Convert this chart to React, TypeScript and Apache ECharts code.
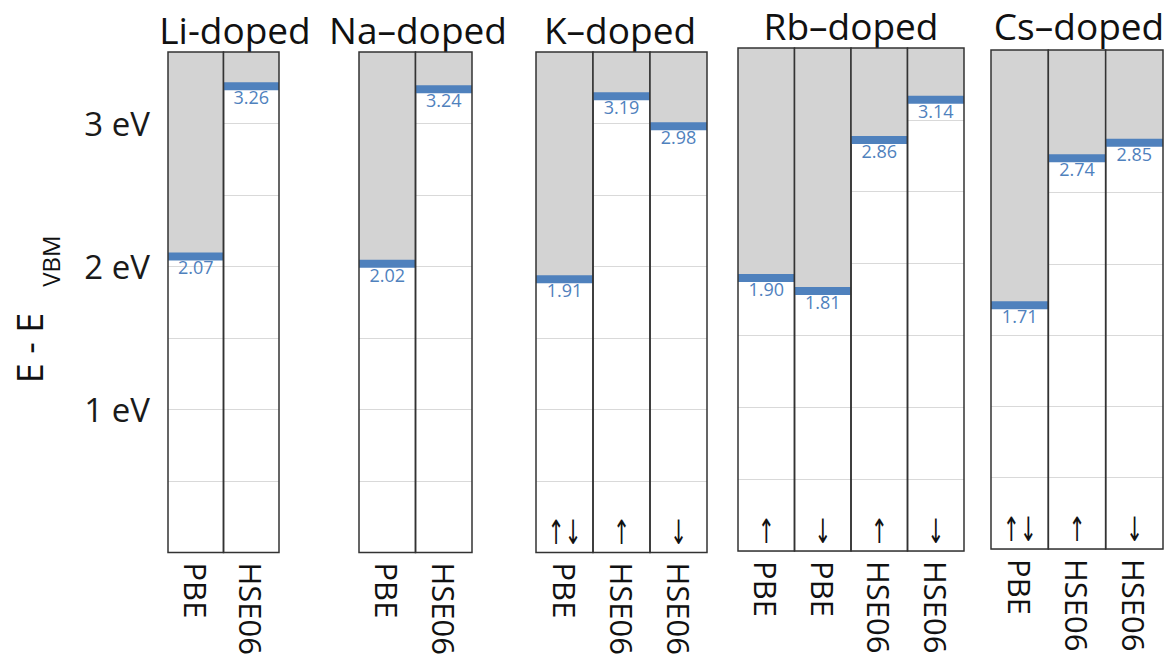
import React, { useEffect, useRef } from "react";
import * as echarts from "echarts";

// ---- data ----
const panelTitles = ["Li-doped", "Na–doped", "K–doped", "Rb–doped", "Cs–doped"];
const liMethods = ["PBE", "HSE06"];
const naMethods = ["PBE", "HSE06"];
const kMethods = ["PBE", "HSE06", "HSE06"];
const rbMethods = ["PBE", "PBE", "HSE06", "HSE06"];
const csMethods = ["PBE", "HSE06", "HSE06"];
const liValues = [2.07, 3.26];
const naValues = [2.02, 3.24];
const kValues = [1.91, 3.19, 2.98];
const rbValues = [1.9, 1.81, 2.86, 3.14];
const csValues = [1.71, 2.74, 2.85];
const liSpins = ["", ""];
const naSpins = ["", ""];
const kSpins = ["↑↓", "↑", "↓"];
const rbSpins = ["↑", "↓", "↑", "↓"];
const csSpins = ["↑↓", "↑", "↓"];
const yMin = 0;
const yMax = 3.5;
const yStep = 0.5;
const yLabelValues = [1, 2, 3];
const yUnit = "eV";

const methods = [liMethods, naMethods, kMethods, rbMethods, csMethods];
const values = [liValues, naValues, kValues, rbValues, csValues];
const spins = [liSpins, naSpins, kSpins, rbSpins, csSpins];

// ---- layout (pixels) ----
const grids = [
  { left: 168, top: 52, width: 111, height: 501 },
  { left: 359, top: 52, width: 113, height: 501 },
  { left: 536, top: 52, width: 171, height: 501 },
  { left: 738, top: 48, width: 226, height: 503 },
  { left: 991, top: 50, width: 172, height: 499 },
];
const titlePos = [
  { x: 235, y: 29 },
  { x: 418, y: 29 },
  { x: 620, y: 29 },
  { x: 851, y: 25 },
  { x: 1079, y: 25 },
];

const FONT = "'Open Sans', 'Noto Sans', sans-serif";
const ARROW_FONT = "'DejaVu Sans', sans-serif";
const BLUE = "#4f81bd";
const GREY = "#d3d3d3";
const EDGE = "#333333";

export default function App() {
  const ref = useRef<HTMLDivElement>(null);
  useEffect(() => {
    if (!ref.current) return;
    const chart = echarts.init(ref.current, null, { renderer: "svg" });

    const xAxis = methods.map((m, gi) => ({
      type: "category",
      gridIndex: gi,
      data: m,
      boundaryGap: true,
      axisLine: { show: false },
      axisTick: { show: false },
      splitLine: { show: false },
      axisLabel: {
        rotate: -90,
        margin: 10,
        fontSize: 31,
        fontFamily: FONT,
        color: "#111",
        interval: 0,
      },
    }));

    const yAxis = methods.map((_, gi) => ({
      type: "value",
      gridIndex: gi,
      min: yMin,
      max: yMax,
      interval: yStep,
      axisLine: { show: false },
      axisTick: { show: false },
      splitLine: { show: true, lineStyle: { color: "#d9d9d9", width: 1.2 } },
      axisLabel: {
        show: gi === 0,
        margin: 18,
        fontSize: 33,
        fontFamily: FONT,
        color: "#1a1a1a",
        formatter: (v: number) =>
          yLabelValues.some((t) => Math.abs(t - v) < 1e-9) ? `${v} ${yUnit}` : "",
      },
    }));

    const series = values.map((vals, gi) => ({
      type: "custom",
      xAxisIndex: gi,
      yAxisIndex: gi,
      data: vals.map((v, i) => [i, v]),
      renderItem: (params: any, api: any) => {
        const i = api.value(0);
        const v = api.value(1);
        const p = api.coord([i, v]);
        const xc = p[0];
        const yv = p[1];
        const yTop = api.coord([i, yMax])[1];
        const yBot = api.coord([i, yMin])[1];
        const w = api.size([1, 0])[0];
        const x0 = xc - w / 2;
        const spin = spins[gi][params.dataIndex] || "";
        const children: any[] = [
          { type: "rect", shape: { x: x0, y: yTop, width: w, height: yv - yTop }, style: { fill: GREY } },
          { type: "rect", shape: { x: x0, y: yv - 4, width: w, height: 8 }, style: { fill: BLUE } },
          {
            type: "text",
            x: xc,
            y: yv + 2,
            style: {
              text: v.toFixed(2),
              align: "center",
              verticalAlign: "top",
              fontSize: 18,
              fontFamily: FONT,
              fill: BLUE,
            },
          },
        ];
        if (spin) {
          children.push({
            type: "text",
            x: xc,
            y: yBot - 3,
            scaleX: 0.72,
            scaleY: 1.2,
            style: {
              text: spin,
              align: "center",
              verticalAlign: "bottom",
              fontSize: 28,
              fontFamily: ARROW_FONT,
              fill: "#111111",
            },
          });
        }
        children.push({
          type: "rect",
          shape: { x: x0, y: yTop, width: w, height: yBot - yTop },
          style: { fill: "none", stroke: EDGE, lineWidth: 1.5 },
        });
        return { type: "group", children };
      },
    }));

    const graphic: any[] = panelTitles.map((t, i) => ({
      type: "text",
      x: titlePos[i].x,
      y: titlePos[i].y,
      style: {
        text: t,
        align: "center",
        verticalAlign: "middle",
        fontSize: 37,
        fontFamily: FONT,
        fill: "#111",
      },
    }));
    graphic.push({
      type: "text",
      x: 29,
      y: 348,
      rotation: Math.PI / 2,
      style: {
        text: "E - E",
        align: "center",
        verticalAlign: "middle",
        fontSize: 36,
        fontFamily: FONT,
        fill: "#111",
      },
    });
    graphic.push({
      type: "text",
      x: 50,
      y: 261,
      rotation: Math.PI / 2,
      style: {
        text: "VBM",
        align: "center",
        verticalAlign: "middle",
        fontSize: 24,
        fontFamily: FONT,
        fill: "#111",
      },
    });

    chart.setOption({
      animation: false,
      backgroundColor: "#ffffff",
      grid: grids.map((g) => ({ ...g, containLabel: false })),
      xAxis,
      yAxis,
      series,
      graphic,
    });
    return () => chart.dispose();
  }, []);

  return (
    <div
      ref={ref}
      style={{ position: "fixed", left: 0, top: 0, width: 1175, height: 658 }}
    />
  );
}
